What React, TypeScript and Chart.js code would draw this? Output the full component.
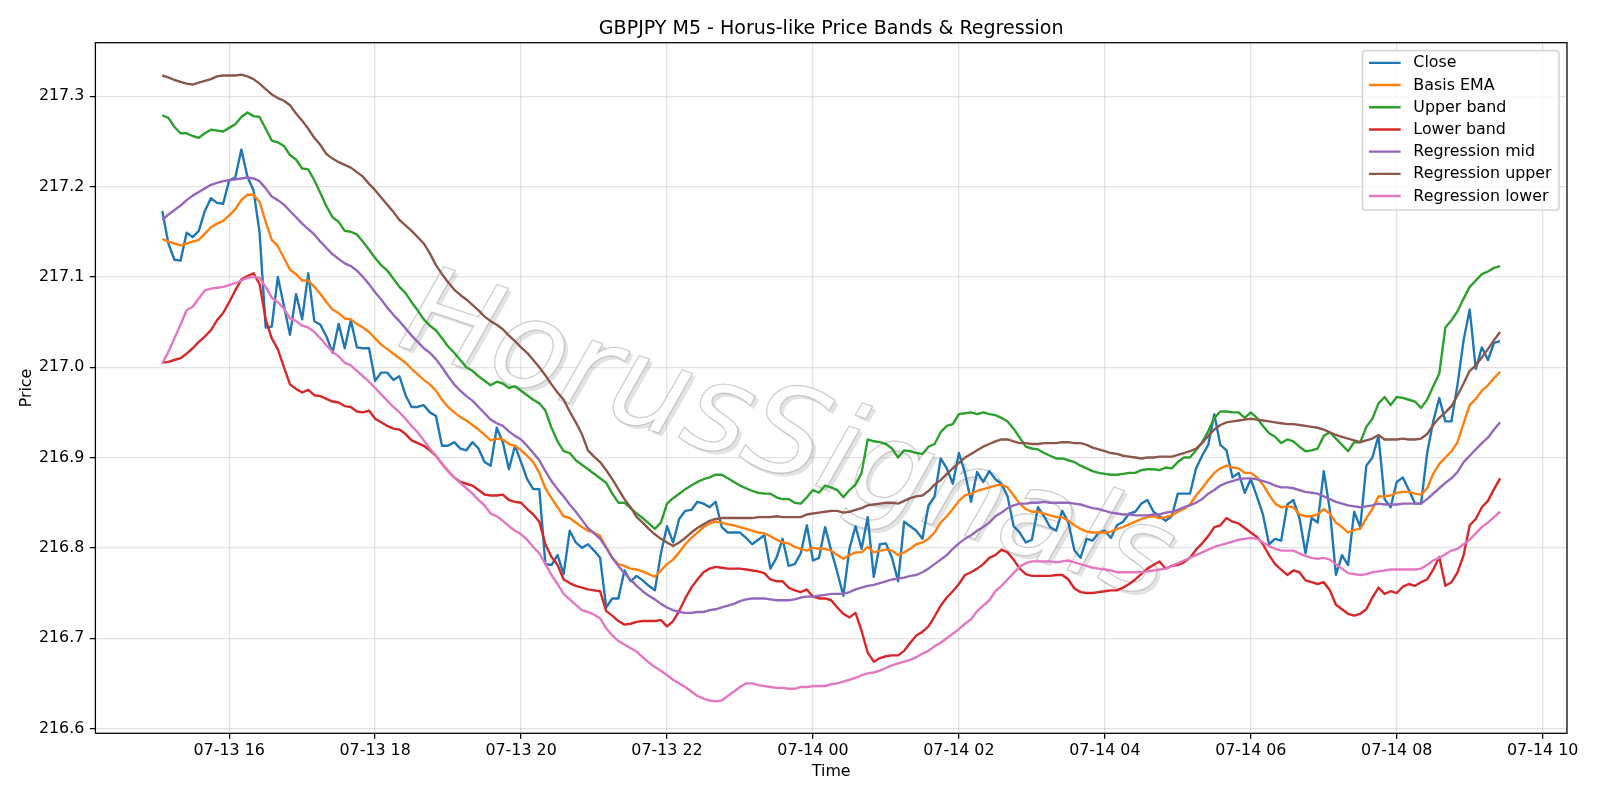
import { useEffect, useRef } from 'react';
import { Chart, registerables } from 'chart.js';

Chart.register(...registerables);

// ---- labels -------------------------------------------------------------
const TITLE = 'GBPJPY M5 - Horus-like Price Bands & Regression';
const X_TITLE = 'Time';
const Y_TITLE = 'Price';
const WATERMARK = 'HorusSignals';

// 5-minute bars from 07-13 15:05 to 07-14 09:25; a tick every 2 hours
const TIME_TICKS = ['07-13 16', '07-13 18', '07-13 20', '07-13 22', '07-14 00', '07-14 02', '07-14 04', '07-14 06', '07-14 08', '07-14 10'];
const FIRST_TICK_BAR = 11; // 07-13 16:00
const BARS_PER_TICK = 24; // 2 hours of 5-minute bars
const PRICE_TICKS = [216.6, 216.7, 216.8, 216.9, 217.0, 217.1, 217.2, 217.3];

// ---- series -------------------------------------------------------------
const CLOSE = [
  217.173, 217.137, 217.119, 217.118, 217.149, 217.144, 217.151, 217.173, 217.187, 217.182,
  217.181, 217.207, 217.210, 217.241, 217.211, 217.196, 217.149, 217.044, 217.045, 217.100,
  217.068, 217.036, 217.081, 217.053, 217.104, 217.051, 217.047, 217.034, 217.016, 217.048,
  217.021, 217.052, 217.022, 217.021, 217.021, 216.985, 216.994, 216.994, 216.986, 216.990,
  216.969, 216.956, 216.956, 216.958, 216.950, 216.946, 216.913, 216.913, 216.917, 216.910,
  216.908, 216.917, 216.910, 216.895, 216.891, 216.933, 216.917, 216.887, 216.913, 216.895,
  216.876, 216.865, 216.865, 216.782, 216.781, 216.792, 216.771, 216.819, 216.806, 216.800,
  216.804, 216.797, 216.789, 216.734, 216.744, 216.744, 216.775, 216.763, 216.769, 216.764,
  216.758, 216.753, 216.794, 216.824, 216.806, 216.832, 216.841, 216.842, 216.851, 216.849,
  216.845, 216.851, 216.823, 216.817, 216.817, 216.817, 216.811, 216.804, 216.809, 216.814,
  216.777, 216.789, 216.810, 216.780, 216.782, 216.794, 216.825, 216.786, 216.789, 216.823,
  216.797, 216.773, 216.747, 216.799, 216.824, 216.799, 216.834, 216.768, 216.804, 216.805,
  216.789, 216.763, 216.829, 216.824, 216.819, 216.810, 216.847, 216.857, 216.899, 216.888,
  216.871, 216.905, 216.883, 216.851, 216.884, 216.873, 216.885, 216.876, 216.871, 216.857,
  216.824, 216.817, 216.806, 216.809, 216.845, 216.835, 216.823, 216.819, 216.841, 216.828,
  216.797, 216.789, 216.810, 216.808, 216.817, 216.819, 216.811, 216.825, 216.829, 216.838,
  216.840, 216.849, 216.853, 216.840, 216.835, 216.830, 216.835, 216.860, 216.860, 216.860,
  216.888, 216.902, 216.914, 216.948, 216.914, 216.908, 216.878, 216.883, 216.861, 216.876,
  216.857, 216.837, 216.804, 216.810, 216.808, 216.848, 216.853, 216.833, 216.794, 216.833,
  216.828, 216.885, 216.842, 216.770, 216.792, 216.781, 216.840, 216.823, 216.891, 216.900,
  216.924, 216.854, 216.845, 216.873, 216.878, 216.864, 216.849, 216.849, 216.905, 216.940,
  216.966, 216.940, 216.940, 216.981, 217.030, 217.064, 216.998, 217.022, 217.008, 217.027,
  217.029,
];

const BASIS_EMA = [
  217.142, 217.139, 217.137, 217.135, 217.137, 217.139, 217.141, 217.148, 217.155, 217.159,
  217.162, 217.168, 217.175, 217.185, 217.191, 217.191, 217.183, 217.161, 217.141, 217.134,
  217.121, 217.108, 217.103, 217.096, 217.096, 217.089, 217.081, 217.072, 217.064, 217.060,
  217.054, 217.053, 217.048, 217.044, 217.039, 217.032, 217.025, 217.020, 217.015, 217.010,
  217.005, 216.998, 216.992, 216.986, 216.981, 216.974, 216.964, 216.956, 216.950, 216.945,
  216.941, 216.936, 216.931, 216.925, 216.919, 216.921, 216.920, 216.915, 216.913, 216.908,
  216.902, 216.895, 216.883, 216.866, 216.855, 216.845, 216.835, 216.833, 216.828, 216.823,
  216.819, 216.817, 216.813, 216.801, 216.789, 216.782, 216.780, 216.777, 216.776, 216.774,
  216.771, 216.768, 216.775, 216.782, 216.787, 216.795, 216.804, 216.811, 216.817, 216.823,
  216.827, 216.829, 216.828, 216.826, 216.825, 216.823, 216.821, 216.819, 216.817, 216.816,
  216.813, 216.809, 216.806, 216.805, 216.801, 216.799, 216.797, 216.800, 216.799, 216.799,
  216.797, 216.792, 216.788, 216.792, 216.795, 216.795, 216.801, 216.795, 216.797, 216.798,
  216.797, 216.792, 216.795, 216.799, 216.804, 216.806, 216.810, 216.817, 216.828, 216.835,
  216.843, 216.852, 216.858, 216.860, 216.863, 216.865, 216.867, 216.869, 216.870, 216.867,
  216.858, 216.849, 216.843, 216.840, 216.840, 216.838, 216.836, 216.834, 216.834, 216.830,
  216.825, 216.821, 216.818, 216.817, 216.817, 216.817, 216.818, 216.821, 216.823, 216.826,
  216.829, 216.832, 216.834, 216.835, 216.833, 216.834, 216.836, 216.840, 216.843, 216.848,
  216.858, 216.866, 216.875, 216.883, 216.888, 216.891, 216.889, 216.888, 216.883, 216.883,
  216.878, 216.870, 216.859, 216.849, 216.845, 216.846, 216.845, 216.837, 216.835, 216.835,
  216.837, 216.843, 216.838, 216.828, 216.823, 216.817, 216.820, 216.821, 216.833, 216.843,
  216.857, 216.857, 216.858, 216.861, 216.862, 216.862, 216.860, 216.859, 216.866, 216.882,
  216.893, 216.900, 216.907, 216.917, 216.938, 216.958, 216.965, 216.974, 216.980, 216.988,
  216.995,
];

const UPPER_BAND = [
  217.279, 217.276, 217.266, 217.259, 217.259, 217.256, 217.254, 217.259, 217.263, 217.262,
  217.261, 217.265, 217.269, 217.277, 217.282, 217.278, 217.277, 217.264, 217.251, 217.249,
  217.245, 217.235, 217.230, 217.220, 217.219, 217.207, 217.193, 217.178, 217.166, 217.161,
  217.151, 217.150, 217.147, 217.139, 217.130, 217.121, 217.113, 217.107, 217.098, 217.089,
  217.082, 217.072, 217.063, 217.053, 217.046, 217.041, 217.032, 217.023, 217.016, 217.008,
  217.000, 216.996, 216.990, 216.985, 216.980, 216.984, 216.982, 216.977, 216.979, 216.974,
  216.969, 216.964, 216.960, 216.952, 216.933, 216.918, 216.907, 216.905, 216.897, 216.892,
  216.887, 216.882, 216.877, 216.872, 216.860, 216.850, 216.850, 216.844, 216.838, 216.833,
  216.827, 216.821, 216.828, 216.849, 216.855, 216.860, 216.865, 216.869, 216.873, 216.876,
  216.878, 216.881, 216.881, 216.877, 216.873, 216.869, 216.866, 216.863, 216.861, 216.860,
  216.860, 216.856, 216.854, 216.854, 216.850, 216.849, 216.856, 216.864, 216.861, 216.869,
  216.867, 216.864, 216.856, 216.864, 216.870, 216.883, 216.920, 216.918, 216.917, 216.915,
  216.910, 216.900, 216.908, 216.907, 216.905, 216.904, 216.912, 216.915, 216.928, 216.935,
  216.937, 216.948, 216.949, 216.950, 216.948, 216.950, 216.948, 216.947, 216.944, 216.940,
  216.932, 216.922, 216.912, 216.910, 216.909, 216.905, 216.902, 216.899, 216.899, 216.897,
  216.895, 216.891, 216.888, 216.885, 216.883, 216.882, 216.881, 216.881, 216.882, 216.883,
  216.883, 216.886, 216.887, 216.887, 216.886, 216.889, 216.888, 216.895, 216.900, 216.900,
  216.908, 216.917, 216.929, 216.944, 216.951, 216.951, 216.950, 216.950, 216.944, 216.950,
  216.944, 216.935, 216.927, 216.923, 216.916, 216.920, 216.918, 216.912, 216.907, 216.908,
  216.910, 216.924, 216.928, 216.921, 216.914, 216.907, 216.917, 216.917, 216.934, 216.943,
  216.960, 216.967, 216.958, 216.967, 216.966, 216.964, 216.962, 216.955, 216.964, 216.979,
  216.993, 217.044, 217.052, 217.062, 217.076, 217.089, 217.096, 217.103, 217.106, 217.110,
  217.112,
];

const LOWER_BAND = [
  217.005, 217.006, 217.008, 217.010, 217.015, 217.021, 217.028, 217.034, 217.041, 217.052,
  217.060, 217.072, 217.085, 217.097, 217.101, 217.104, 217.092, 217.053, 217.032, 217.020,
  217.000, 216.981, 216.976, 216.972, 216.975, 216.969, 216.968, 216.965, 216.962, 216.961,
  216.957, 216.956, 216.951, 216.950, 216.952, 216.943, 216.939, 216.935, 216.932, 216.931,
  216.926, 216.919, 216.916, 216.913, 216.908, 216.902, 216.893, 216.885, 216.878, 216.873,
  216.871, 216.869, 216.864, 216.859, 216.858, 216.858, 216.859, 216.853, 216.851, 216.850,
  216.843, 216.837, 216.829, 216.804, 216.790, 216.781, 216.765, 216.761, 216.758, 216.756,
  216.754, 216.753, 216.752, 216.730, 216.725, 216.719, 216.715, 216.716, 216.718, 216.719,
  216.719, 216.719, 216.720, 216.713, 216.719, 216.730, 216.744, 216.756, 216.765, 216.773,
  216.777, 216.779, 216.778, 216.777, 216.777, 216.777, 216.776, 216.775, 216.774, 216.772,
  216.765, 216.763, 216.763, 216.756, 216.753, 216.751, 216.754, 216.746, 216.744, 216.744,
  216.742, 216.734, 216.727, 216.723, 216.728, 216.708, 216.684, 216.674, 216.678, 216.680,
  216.681, 216.681, 216.686, 216.695, 216.703, 216.707, 216.713, 216.724, 216.736, 216.745,
  216.752, 216.760, 216.770, 216.773, 216.777, 216.782, 216.789, 216.792, 216.798, 216.795,
  216.787, 216.777, 216.771, 216.769, 216.769, 216.769, 216.769, 216.770, 216.770, 216.765,
  216.755, 216.751, 216.750, 216.750, 216.751, 216.752, 216.753, 216.753, 216.756, 216.760,
  216.765, 216.771, 216.777, 216.781, 216.785, 216.777, 216.780, 216.781, 216.784, 216.789,
  216.798, 216.805, 216.813, 216.823, 216.825, 216.833, 216.829, 216.827, 216.822, 216.817,
  216.812, 216.804, 216.792, 216.782, 216.776, 216.770, 216.775, 216.773, 216.764, 216.762,
  216.760, 216.762, 216.753, 216.737, 216.732, 216.727, 216.725, 216.727, 216.732, 216.745,
  216.756, 216.749, 216.752, 216.750, 216.757, 216.760, 216.758, 216.762, 216.765, 216.776,
  216.790, 216.758, 216.762, 216.773, 216.792, 216.825, 216.832, 216.845, 216.852, 216.865,
  216.877,
];

const REGRESSION_MID = [
  217.163, 217.169, 217.174, 217.179, 217.185, 217.190, 217.194, 217.198, 217.202, 217.204,
  217.206, 217.207, 217.208, 217.209, 217.210, 217.209, 217.206, 217.198, 217.189, 217.185,
  217.180, 217.173, 217.166, 217.159, 217.153, 217.147, 217.139, 217.132, 217.125, 217.120,
  217.115, 217.112, 217.107, 217.100, 217.092, 217.083, 217.075, 217.066, 217.058, 217.051,
  217.043, 217.035, 217.028, 217.021, 217.016, 217.009, 217.000, 216.990, 216.981, 216.974,
  216.968, 216.963, 216.956, 216.949, 216.942, 216.938, 216.935, 216.929, 216.924, 216.920,
  216.913, 216.905, 216.897, 216.885, 216.874, 216.865, 216.857, 216.848, 216.840, 216.831,
  216.822, 216.816, 216.810, 216.800, 216.789, 216.780, 216.772, 216.765, 216.758, 216.752,
  216.747, 216.743, 216.738, 216.734, 216.731, 216.729, 216.728, 216.728, 216.729, 216.729,
  216.731, 216.732, 216.734, 216.736, 216.738, 216.741, 216.743, 216.744, 216.744, 216.744,
  216.743, 216.742, 216.742, 216.742, 216.743, 216.745, 216.746, 216.746, 216.747, 216.748,
  216.749, 216.749, 216.749, 216.751, 216.754, 216.756, 216.758, 216.759, 216.761, 216.763,
  216.765, 216.766, 216.767, 216.769, 216.770, 216.773, 216.777, 216.782, 216.787, 216.792,
  216.799, 216.805, 216.810, 216.814, 216.819, 216.823, 216.828, 216.835, 216.839, 216.844,
  216.847, 216.849, 216.849, 216.850, 216.850, 216.851, 216.850, 216.850, 216.850, 216.850,
  216.849, 216.848, 216.846, 216.844, 216.843, 216.841, 216.839, 216.838, 216.837, 216.837,
  216.836, 216.836, 216.836, 216.837, 216.837, 216.839, 216.840, 216.842, 216.845, 216.847,
  216.850, 216.854, 216.860, 216.864, 216.869, 216.872, 216.874, 216.876, 216.877, 216.877,
  216.876, 216.874, 216.872, 216.869, 216.867, 216.867, 216.866, 216.864, 216.862, 216.861,
  216.860, 216.857, 216.854, 216.851, 216.849, 216.847, 216.846, 216.845, 216.846, 216.847,
  216.849, 216.848, 216.848, 216.848, 216.849, 216.849, 216.849, 216.849, 216.854, 216.860,
  216.866, 216.872, 216.877, 216.884, 216.895, 216.902, 216.909, 216.916, 216.922, 216.931,
  216.939,
];

const REGRESSION_UPPER = [
  217.323, 217.321, 217.318, 217.316, 217.314, 217.313, 217.315, 217.317, 217.319, 217.322,
  217.323, 217.323, 217.323, 217.324, 217.322, 217.319, 217.314, 217.308, 217.302, 217.298,
  217.295, 217.290, 217.281, 217.273, 217.264, 217.254, 217.246, 217.236, 217.231, 217.227,
  217.224, 217.221, 217.216, 217.211, 217.203, 217.196, 217.188, 217.180, 217.172, 217.163,
  217.157, 217.151, 217.144, 217.137, 217.126, 217.113, 217.103, 217.094, 217.086, 217.080,
  217.075, 217.069, 217.063, 217.056, 217.051, 217.047, 217.042, 217.035, 217.029, 217.022,
  217.016, 217.008, 217.000, 216.991, 216.981, 216.972, 216.964, 216.951, 216.939, 216.926,
  216.908, 216.901, 216.895, 216.886, 216.876, 216.865, 216.854, 216.845, 216.834, 216.828,
  216.821, 216.815, 216.810, 216.806, 216.802, 216.806, 216.811, 216.817, 216.822, 216.826,
  216.830, 216.832, 216.833, 216.833, 216.833, 216.833, 216.833, 216.833, 216.834, 216.834,
  216.834, 216.835, 216.834, 216.834, 216.834, 216.834, 216.837, 216.838, 216.839, 216.840,
  216.841, 216.841, 216.839, 216.840, 216.842, 216.844, 216.847, 216.848, 216.849, 216.850,
  216.850, 216.849, 216.852, 216.855, 216.857, 216.858, 216.863, 216.870, 216.875, 216.882,
  216.888, 216.894, 216.900, 216.904, 216.908, 216.912, 216.915, 216.918, 216.920, 216.920,
  216.918, 216.916, 216.916, 216.915, 216.915, 216.916, 216.916, 216.916, 216.917, 216.917,
  216.916, 216.916, 216.914, 216.911, 216.909, 216.907, 216.905, 216.904, 216.902, 216.901,
  216.900, 216.899, 216.900, 216.900, 216.901, 216.901, 216.901, 216.903, 216.905, 216.907,
  216.910, 216.916, 216.924, 216.931, 216.936, 216.939, 216.940, 216.941, 216.942, 216.943,
  216.942, 216.941, 216.940, 216.939, 216.938, 216.937, 216.937, 216.936, 216.935, 216.934,
  216.933, 216.931, 216.928, 216.925, 216.923, 216.921, 216.919, 216.917, 216.919, 216.921,
  216.925, 216.920, 216.920, 216.920, 216.921, 216.920, 216.920, 216.921, 216.926, 216.936,
  216.944, 216.950, 216.957, 216.969, 216.982, 216.996, 217.002, 217.011, 217.020, 217.030,
  217.039,
];

const REGRESSION_LOWER = [
  217.004, 217.017, 217.032, 217.047, 217.063, 217.067, 217.076, 217.085, 217.087, 217.088,
  217.089, 217.091, 217.093, 217.096, 217.099, 217.100, 217.099, 217.089, 217.077, 217.072,
  217.065, 217.054, 217.051, 217.046, 217.044, 217.039, 217.032, 217.024, 217.017, 217.012,
  217.005, 217.002, 216.996, 216.990, 216.984, 216.977, 216.970, 216.963, 216.956, 216.950,
  216.943, 216.935, 216.928, 216.919, 216.910, 216.902, 216.893, 216.885, 216.878, 216.872,
  216.866, 216.860, 216.853, 216.847, 216.838, 216.835, 216.830, 216.824, 216.819, 216.815,
  216.809, 216.801, 216.794, 216.782, 216.770, 216.760, 216.749, 216.743, 216.737, 216.731,
  216.729, 216.726, 216.722, 216.711, 216.703, 216.697, 216.693, 216.689, 216.685, 216.679,
  216.673, 216.668, 216.664, 216.659, 216.654, 216.650, 216.646, 216.641, 216.636, 216.633,
  216.631, 216.630, 216.631, 216.636, 216.641, 216.646, 216.650, 216.650, 216.648, 216.647,
  216.646, 216.645, 216.645, 216.644, 216.644, 216.646, 216.646, 216.647, 216.647, 216.647,
  216.649, 216.650, 216.652, 216.654, 216.656, 216.659, 216.661, 216.662, 216.664, 216.667,
  216.670, 216.672, 216.674, 216.676, 216.679, 216.683, 216.686, 216.691, 216.695, 216.700,
  216.705, 216.710, 216.716, 216.721, 216.730, 216.736, 216.742, 216.752, 216.758, 216.765,
  216.772, 216.779, 216.783, 216.785, 216.785, 216.785, 216.785, 216.784, 216.785, 216.786,
  216.784, 216.782, 216.780, 216.778, 216.777, 216.776, 216.775, 216.773, 216.773, 216.773,
  216.773, 216.773, 216.774, 216.775, 216.776, 216.777, 216.780, 216.783, 216.786, 216.789,
  216.792, 216.795, 216.798, 216.801, 216.803, 216.805, 216.807, 216.809, 216.810, 216.811,
  216.810, 216.806, 216.802, 216.799, 216.797, 216.797, 216.797, 216.794, 216.791, 216.789,
  216.788, 216.789, 216.787, 216.782, 216.777, 216.772, 216.771, 216.770, 216.771, 216.773,
  216.774, 216.775, 216.776, 216.776, 216.776, 216.776, 216.776, 216.777, 216.781, 216.786,
  216.789, 216.793, 216.797, 216.799, 216.804, 216.809, 216.816, 216.823, 216.828, 216.834,
  216.840,
];

const SERIES = [
  { label: 'Close', values: CLOSE, color: '#1f77b4' },
  { label: 'Basis EMA', values: BASIS_EMA, color: '#ff7f0e' },
  { label: 'Upper band', values: UPPER_BAND, color: '#2ca02c' },
  { label: 'Lower band', values: LOWER_BAND, color: '#d62728' },
  { label: 'Regression mid', values: REGRESSION_MID, color: '#9467bd' },
  { label: 'Regression upper', values: REGRESSION_UPPER, color: '#8c564b' },
  { label: 'Regression lower', values: REGRESSION_LOWER, color: '#e377c2' },
];

// ---- geometry & style ---------------------------------------------------
const W = 1600;
const H = 800;
const PT = 114.3 / 72; // pixels per point
const FONT_FAMILY = '"DejaVu Sans", "Liberation Sans", sans-serif';
const FONT = 10 * PT;
const TITLE_FONT = 12 * PT;
const LINE_W = 1.5 * PT;
const SPINE_W = 0.8 * PT;
const TICK_LEN = 3.5 * PT;
const GRID_COLOR = 'rgba(176,176,176,0.35)';
const PLOT = { left: 95.4, top: 42.7, right: 1567, bottom: 733.3 };

const LAST_BAR = CLOSE.length - 1;
const X_PAD = LAST_BAR * 0.05;
const Y_MIN = 216.5947;
const Y_MAX = 217.3593;

// watermark placement
const WM_CENTER = { x: 786, y: 442 };
const WM_ANGLE_DEG = 18.5;
const WM_SIZE = 123;

const decorations = {
  id: 'decorations',
  beforeDraw(chart: any) {
    const { ctx } = chart;
    ctx.save();
    ctx.fillStyle = '#ffffff';
    ctx.fillRect(0, 0, W, H);
    ctx.restore();
  },
  beforeDatasetsDraw(chart: any) {
    // diagonal hollow watermark with a soft drop shadow
    const { ctx } = chart;
    const angle = (WM_ANGLE_DEG * Math.PI) / 180;
    const font = `italic ${WM_SIZE}px ${FONT_FAMILY}`;
    const draw = (dx: number, dy: number, mode: 'shadow' | 'face') => {
      ctx.save();
      ctx.translate(WM_CENTER.x + dx, WM_CENTER.y + dy);
      ctx.rotate(angle);
      ctx.font = font;
      ctx.textAlign = 'center';
      ctx.textBaseline = 'middle';
      if (mode === 'shadow') {
        ctx.fillStyle = 'rgba(140,140,140,0.24)';
        ctx.fillText(WATERMARK, 0, 0);
      } else {
        ctx.fillStyle = 'rgba(255,255,255,0.94)';
        ctx.fillText(WATERMARK, 0, 0);
        ctx.lineWidth = 1.3;
        ctx.strokeStyle = 'rgba(160,160,160,0.5)';
        ctx.strokeText(WATERMARK, 0, 0);
      }
      ctx.restore();
    };
    draw(3.5, 3.5, 'shadow');
    draw(0, 0, 'face');
  },
  afterDatasetsDraw(chart: any) {
    const { ctx } = chart;
    const a = chart.chartArea;
    ctx.save();
    ctx.strokeStyle = '#000000';
    ctx.lineWidth = SPINE_W;
    ctx.strokeRect(a.left, a.top, a.right - a.left, a.bottom - a.top);
    ctx.restore();
  },
  afterDraw(chart: any) {
    const { ctx } = chart;
    const a = chart.chartArea;
    ctx.save();
    // title
    ctx.fillStyle = '#000000';
    ctx.font = `${TITLE_FONT}px ${FONT_FAMILY}`;
    ctx.textAlign = 'center';
    ctx.textBaseline = 'alphabetic';
    ctx.fillText(TITLE, (a.left + a.right) / 2, a.top - 8.8);

    // legend (upper right, inside the axes)
    const em = FONT;
    const boxW = 196.5;
    const boxH = 159.3;
    const boxX = a.right - 0.5 * em - boxW;
    const boxY = a.top + 0.5 * em;
    const r = 0.2 * em;
    ctx.beginPath();
    ctx.moveTo(boxX + r, boxY);
    ctx.lineTo(boxX + boxW - r, boxY);
    ctx.arcTo(boxX + boxW, boxY, boxX + boxW, boxY + r, r);
    ctx.lineTo(boxX + boxW, boxY + boxH - r);
    ctx.arcTo(boxX + boxW, boxY + boxH, boxX + boxW - r, boxY + boxH, r);
    ctx.lineTo(boxX + r, boxY + boxH);
    ctx.arcTo(boxX, boxY + boxH, boxX, boxY + boxH - r, r);
    ctx.lineTo(boxX, boxY + r);
    ctx.arcTo(boxX, boxY, boxX + r, boxY, r);
    ctx.closePath();
    ctx.fillStyle = 'rgba(255,255,255,0.8)';
    ctx.fill();
    ctx.lineWidth = 1.0 * PT;
    ctx.strokeStyle = 'rgba(204,204,204,0.8)';
    ctx.stroke();

    const hx1 = boxX + 0.4 * em;
    const hx2 = hx1 + 2 * em;
    const tx = hx2 + 0.8 * em;
    ctx.font = `${FONT}px ${FONT_FAMILY}`;
    ctx.textAlign = 'left';
    ctx.textBaseline = 'middle';
    SERIES.forEach((s, k) => {
      const y = boxY + 12.2 + k * 22.2;
      ctx.beginPath();
      ctx.moveTo(hx1, y);
      ctx.lineTo(hx2, y);
      ctx.strokeStyle = s.color;
      ctx.lineWidth = LINE_W;
      ctx.stroke();
      ctx.fillStyle = '#000000';
      ctx.fillText(s.label, tx, y + 0.5);
    });
    ctx.restore();
  },
};

export default function App() {
  const canvasRef = useRef<HTMLCanvasElement | null>(null);

  useEffect(() => {
    const canvas = canvasRef.current;
    if (!canvas) return;

    const datasets = SERIES.map((s, k) => ({
      label: s.label,
      data: s.values.map((v, i) => ({ x: i, y: v })),
      borderColor: s.color,
      backgroundColor: s.color,
      borderWidth: LINE_W,
      borderJoinStyle: 'round' as const,
      borderCapStyle: 'butt' as const,
      pointRadius: 0,
      pointHoverRadius: 0,
      tension: 0,
      fill: false,
      order: SERIES.length - k,
    }));

    const tickFont = { family: FONT_FAMILY, size: FONT };

    const chart = new Chart(canvas, {
      type: 'line',
      data: { datasets },
      options: {
        responsive: false,
        animation: false,
        devicePixelRatio: 1,
        events: [],
        layout: { padding: { left: 0, top: PLOT.top, right: W - PLOT.right, bottom: 0 } },
        plugins: {
          legend: { display: false },
          title: { display: false },
          tooltip: { enabled: false },
        },
        scales: {
          x: {
            type: 'linear',
            min: -X_PAD,
            max: LAST_BAR + X_PAD,
            afterBuildTicks: (scale: any) => {
              scale.ticks = TIME_TICKS.map((_, k) => ({ value: FIRST_TICK_BAR + k * BARS_PER_TICK }));
            },
            afterFit: (scale: any) => {
              scale.height = H - PLOT.bottom;
            },
            ticks: {
              autoSkip: false,
              maxRotation: 0,
              minRotation: 0,
              padding: 2.6,
              color: '#000000',
              font: tickFont,
              callback: (_v: any, index: number) => TIME_TICKS[index],
            },
            grid: {
              color: GRID_COLOR,
              lineWidth: 0.8 * PT,
              drawTicks: true,
              tickLength: TICK_LEN,
              tickColor: '#000000',
              tickWidth: SPINE_W,
            },
            border: { display: false },
            title: {
              display: true,
              text: X_TITLE,
              color: '#000000',
              font: tickFont,
              padding: { top: 0, bottom: 19 },
            },
          },
          y: {
            type: 'linear',
            min: Y_MIN,
            max: Y_MAX,
            afterBuildTicks: (scale: any) => {
              scale.ticks = PRICE_TICKS.map((v) => ({ value: v }));
            },
            afterFit: (scale: any) => {
              scale.width = PLOT.left;
            },
            ticks: {
              padding: TICK_LEN,
              color: '#000000',
              font: tickFont,
              callback: (v: any) => Number(v).toFixed(1),
            },
            grid: {
              color: GRID_COLOR,
              lineWidth: 0.8 * PT,
              drawTicks: true,
              tickLength: TICK_LEN,
              tickColor: '#000000',
              tickWidth: SPINE_W,
            },
            border: { display: false },
            title: {
              display: true,
              text: Y_TITLE,
              color: '#000000',
              font: tickFont,
              padding: { top: 17, bottom: 0 },
            },
          },
        },
      },
      plugins: [decorations],
    } as any);

    return () => chart.destroy();
  }, []);

  return (
    <div style={{ position: 'absolute', left: 0, top: 0, width: W, height: H, background: '#ffffff' }}>
      <canvas ref={canvasRef} width={W} height={H} style={{ display: 'block', width: W, height: H }} />
    </div>
  );
}
